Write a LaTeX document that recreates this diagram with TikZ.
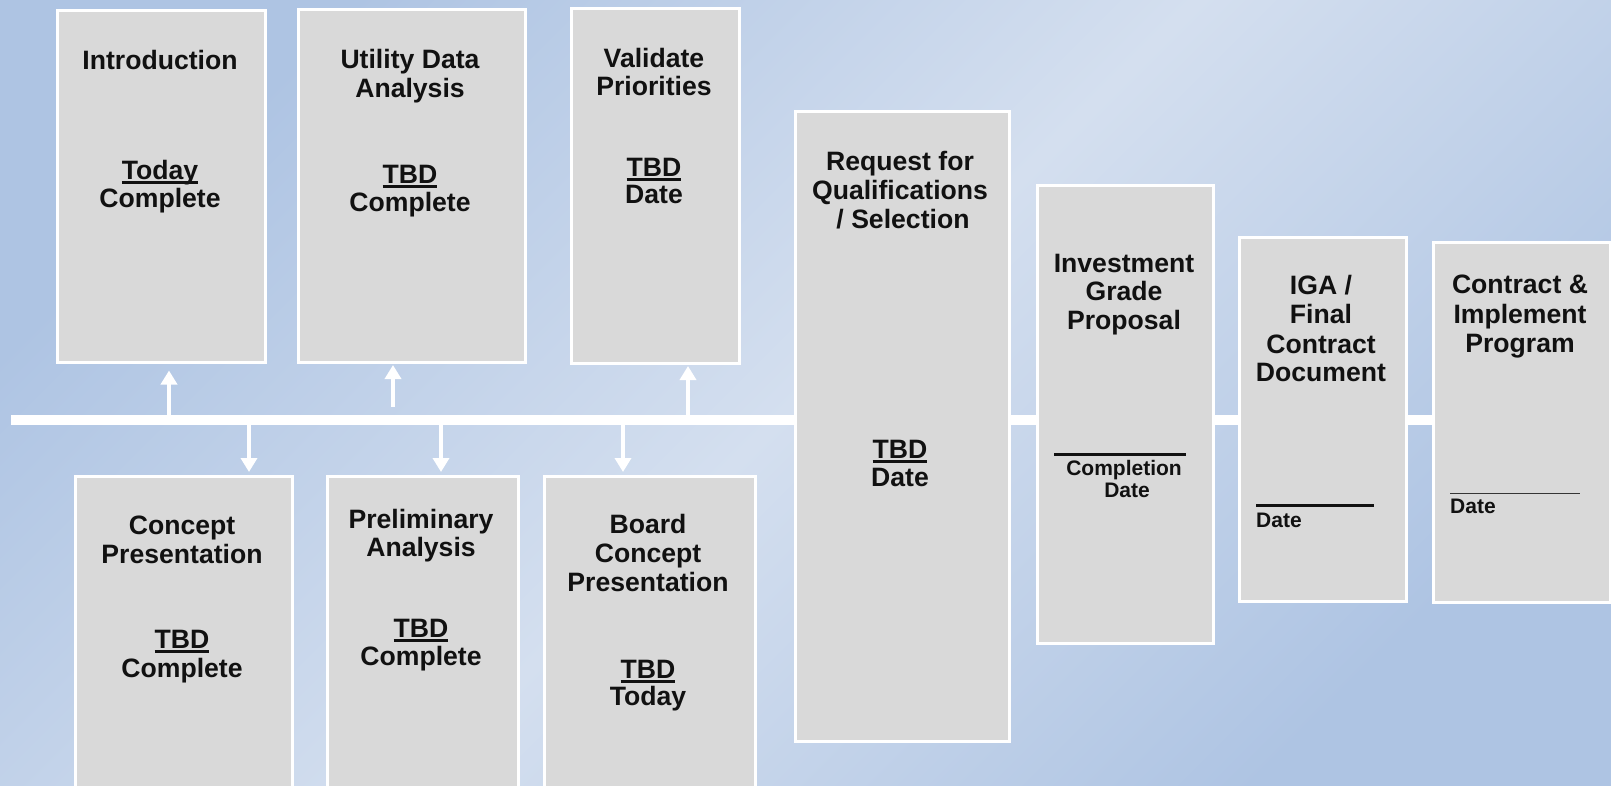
\documentclass[tikz,border=0pt]{standalone}
\usepackage{fontspec}
\setmainfont{Liberation Sans}
\usetikzlibrary{arrows.meta}
\definecolor{bgdark}{RGB}{174,196,227}
\definecolor{bglight}{RGB}{212,223,239}
\definecolor{boxfill}{RGB}{217,217,217}
\definecolor{txt}{RGB}{17,17,17}
\newcommand\ulword[1]{\setbox0=\hbox{#1}\rlap{\rule[-5pt]{\wd0}{2.7pt}}\box0}
\begin{document}
\begin{tikzpicture}[x=1pt,y=-1pt,
  box/.style={draw=white,line width=3pt,fill=boxfill,rectangle,anchor=north west,inner sep=0pt},
  ttl/.style={font=\fontsize{26.6}{28}\selectfont\bfseries,anchor=base,inner sep=0pt,text=txt},
  sml/.style={ttl,font=\fontsize{21}{22}\selectfont\bfseries},
  arr/.style={draw=white,line width=3.5pt,-{Triangle[width=16pt,length=14pt]}},
  bar/.style={draw=txt,line width=3pt}]
\path[left color=bgdark,right color=bgdark,middle color=bglight,shading angle=45] (0,0) rectangle (1611,785);
\useasboundingbox (0,0) rectangle (1611,785);
\clip (0,0) rectangle (1611,785);
% main line
\coordinate (lnL) at (11,420);
\coordinate (lnR) at (1520,420);
\draw[white,line width=10pt] (lnL) -- (lnR);
% boxes
\node[box,minimum width=208pt,minimum height=352pt] (b1) at (55.5,8.5) {};
\node[box,minimum width=227pt,minimum height=353pt] (b2) at (296.5,7.5) {};
\node[box,minimum width=168pt,minimum height=355pt] (b3) at (569.5,6.5) {};
\node[box,minimum width=214pt,minimum height=630pt] (b4) at (793.5,109.5) {};
\node[box,minimum width=176pt,minimum height=458pt] (b5) at (1035.5,183.5) {};
\node[box,minimum width=167pt,minimum height=364pt] (b6) at (1237.5,235.5) {};
\node[box,minimum width=177pt,minimum height=360pt] (b7) at (1431.5,240.5) {};
\node[box,minimum width=217pt,minimum height=330pt] (b8) at (73.5,474.5) {};
\node[box,minimum width=191pt,minimum height=330pt] (b9) at (325.5,474.5) {};
\node[box,minimum width=211pt,minimum height=330pt] (b10) at (542.5,474.5) {};
% arrows
\coordinate (u1) at (169,415);
\coordinate (u2) at (393,407);
\coordinate (u3) at (688,415);
\coordinate (d1) at (249,425);
\coordinate (d2) at (441,425);
\coordinate (d3) at (623,425);
\draw[arr,shorten >=7pt] (u1) -- (u1 |- b1.south);
\draw[arr,shorten >=1.5pt] (u2) -- (u2 |- b2.south);
\draw[arr,shorten >=1.5pt] (u3) -- (u3 |- b3.south);
\draw[arr,shorten >=2.5pt] (d1) -- (d1 |- b8.north);
\draw[arr,shorten >=2.5pt] (d2) -- (d2 |- b9.north);
\draw[arr,shorten >=2.5pt] (d3) -- (d3 |- b10.north);
% box 1
\node[ttl] (n1a) at (160,69) {Introduction};
\node[ttl] (n1b) at (160,179) {\ulword{Today}};
\node[ttl] (n1c) at (160,207) {Complete};
% box 2
\node[ttl] (n2a) at (410,68) {Utility Data};
\node[ttl] (n2b) at (410,97) {Analysis};
\node[ttl] (n2c) at (410,183) {\ulword{TBD}};
\node[ttl] (n2d) at (410,211) {Complete};
% box 3
\node[ttl] (n3a) at (654,67) {Validate};
\node[ttl] (n3b) at (654,95) {Priorities};
\node[ttl] (n3c) at (654,176) {\ulword{TBD}};
\node[ttl] (n3d) at (654,203) {Date};
% box 4
\node[ttl] (n4a) at (900,170) {Request for};
\node[ttl] (n4b) at (900,199) {Qualifications};
\node[ttl] (n4c) at (903,228) {/ Selection};
\node[ttl] (n4d) at (900,458) {\ulword{TBD}};
\node[ttl] (n4e) at (900,486) {Date};
% box 5
\node[ttl] (n5a) at (1124,272) {Investment};
\node[ttl] (n5b) at (1124,300) {Grade};
\node[ttl] (n5c) at (1124,329) {Proposal};
\draw[bar] (1054,454.5) -- (1186,454.5);
\node[sml] (n5d) at (1124,475) {Completion};
\node[sml] (n5e) at (1127,497) {Date};
% box 6
\node[ttl] (n6a) at (1321,294) {IGA /};
\node[ttl] (n6b) at (1321,323) {Final};
\node[ttl] (n6c) at (1321,353) {Contract};
\node[ttl] (n6d) at (1321,381) {Document};
\draw[bar] (1256,505.5) -- (1374,505.5);
\node[sml,anchor=base west] (n6e) at (1256,527) {Date};
% box 7
\node[ttl] (n7a) at (1520,293) {Contract \&};
\node[ttl] (n7b) at (1520,323) {Implement};
\node[ttl] (n7c) at (1520,352) {Program};
\draw[draw=txt!85,line width=1pt] (1450,493) -- (1580,493);
\node[sml,anchor=base west] (n7d) at (1450,513) {Date};
% box 8
\node[ttl] (n8a) at (182,534) {Concept};
\node[ttl] (n8b) at (182,563) {Presentation};
\node[ttl] (n8c) at (182,648) {\ulword{TBD}};
\node[ttl] (n8d) at (182,677) {Complete};
% box 9
\node[ttl] (n9a) at (421,528) {Preliminary};
\node[ttl] (n9b) at (421,556) {Analysis};
\node[ttl] (n9c) at (421,637) {\ulword{TBD}};
\node[ttl] (n9d) at (421,665) {Complete};
% box 10
\node[ttl] (n10a) at (648,533) {Board};
\node[ttl] (n10b) at (648,562) {Concept};
\node[ttl] (n10c) at (648,591) {Presentation};
\node[ttl] (n10d) at (648,678) {\ulword{TBD}};
\node[ttl] (n10e) at (648,705) {Today};
\end{tikzpicture}
\end{document}
